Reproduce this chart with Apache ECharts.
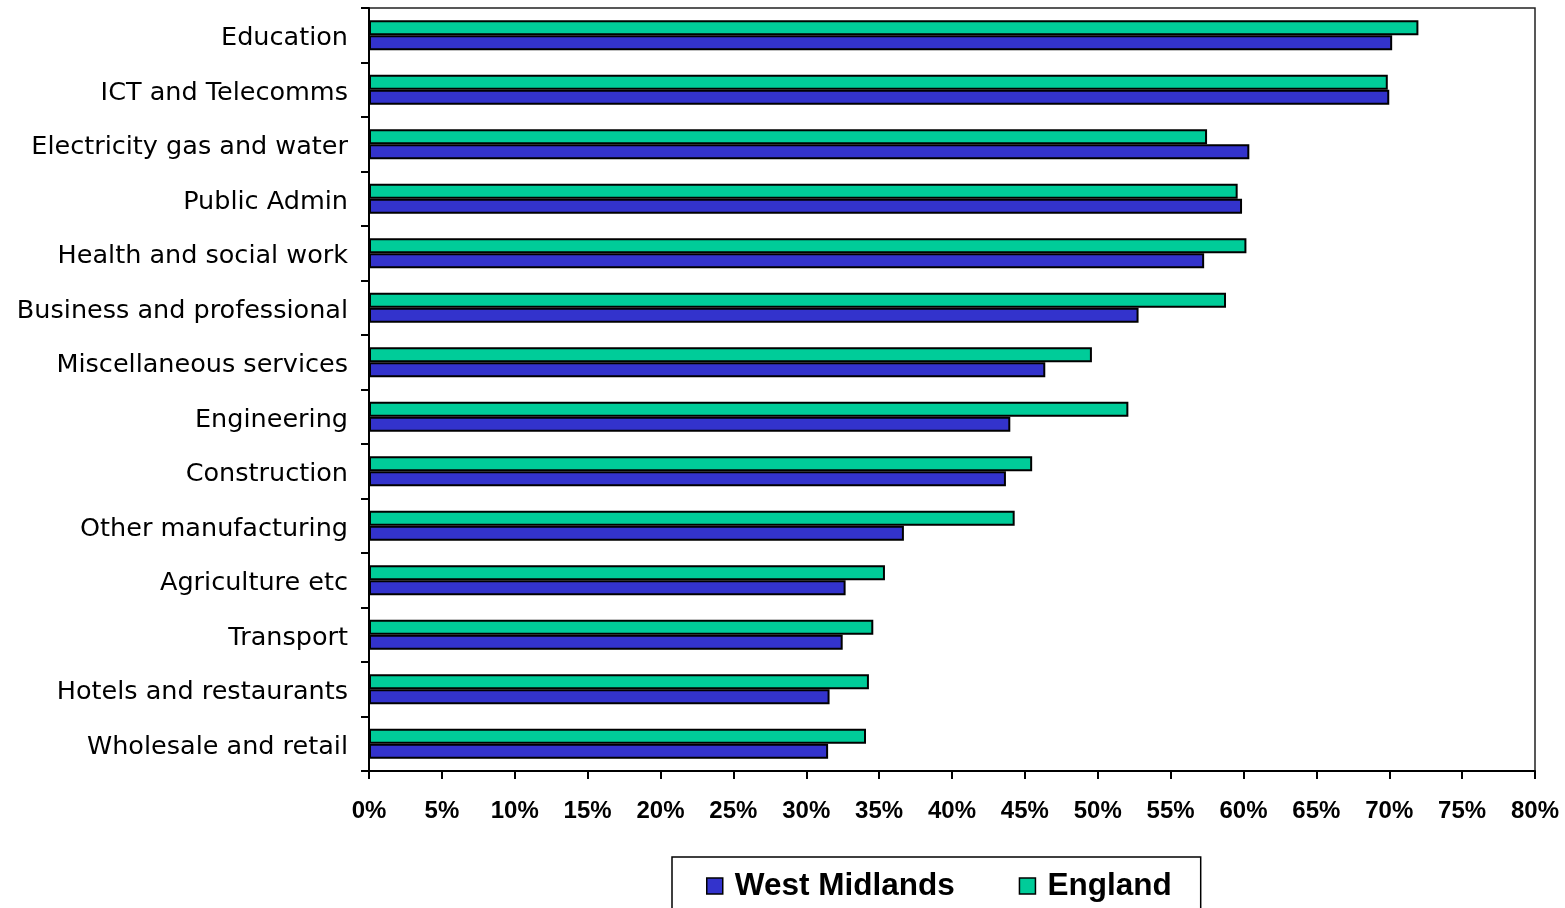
<!DOCTYPE html>
<html>
<head>
<meta charset="utf-8">
<script src="https://cdn.jsdelivr.net/npm/echarts@6/dist/echarts.min.js"></script>
<style>
  html, body { margin: 0; padding: 0; background: #fff; }
  #chart { width: 1565px; height: 908px; }
</style>
</head>
<body>
<div id="chart"></div>
<script>
// Sectors, listed top to bottom
var sectors = [
  'Education', 'ICT and Telecomms', 'Electricity gas and water', 'Public Admin',
  'Health and social work', 'Business and professional', 'Miscellaneous services',
  'Engineering', 'Construction', 'Other manufacturing', 'Agriculture etc',
  'Transport', 'Hotels and restaurants', 'Wholesale and retail'
];

// Share of workforce (%) by sector
var westMidlands = [70.2, 70.0, 60.4, 59.9, 57.3, 52.8, 46.4, 44.0, 43.7, 36.7, 32.7, 32.5, 31.6, 31.5];
var england      = [72.0, 69.9, 57.5, 59.6, 60.2, 58.8, 49.6, 52.1, 45.5, 44.3, 35.4, 34.6, 34.3, 34.1];

// Horizontal axis ticks
var axisMin = 0;
var axisMax = 80;
var axisStep = 5;

var chart = echarts.init(document.getElementById('chart'), null, { renderer: 'canvas' });

var barBorder = { borderColor: '#000', borderWidth: 2 };

chart.setOption({
  animation: false,
  backgroundColor: '#fff',
  grid: {
    left: 369, right: 30, top: 8, bottom: 137,
    show: true, borderColor: '#222', borderWidth: 1.5, backgroundColor: 'transparent'
  },
  legend: {
    data: ['West Midlands', 'England'],
    left: 672, top: 857,
    padding: [13, 29, 40, 34],
    borderColor: '#000', borderWidth: 1.5,
    icon: 'rect',
    itemWidth: 16, itemHeight: 16,
    itemGap: 64,
    itemStyle: { borderColor: '#000', borderWidth: 1.5 },
    textStyle: {
      fontFamily: '"Liberation Sans", Arial, sans-serif',
      fontWeight: 'bold', fontSize: 31.5, color: '#000',
      padding: [0, 0, 0, 7]
    }
  },
  xAxis: {
    type: 'value',
    min: axisMin, max: axisMax, interval: axisStep,
    axisLine: { show: true, lineStyle: { color: '#000', width: 2 } },
    axisTick: { show: true, length: 8, lineStyle: { color: '#000', width: 2 } },
    splitLine: { show: false },
    axisLabel: {
      margin: 28,
      formatter: '{value}%',
      fontFamily: '"Liberation Sans", Arial, sans-serif',
      fontWeight: 'bold', fontSize: 24, color: '#000'
    }
  },
  yAxis: {
    type: 'category',
    data: sectors,
    inverse: true,
    axisLine: { show: true, lineStyle: { color: '#000', width: 2 } },
    axisTick: { show: true, length: 8, lineStyle: { color: '#000', width: 2 } },
    axisLabel: {
      margin: 21,
      formatter: '{cat|{value}}',
      rich: {
        cat: {
          padding: [7, 0, 0, 0],
          fontFamily: '"DejaVu Sans", sans-serif',
          fontSize: 25.5, color: '#000'
        }
      },
      fontFamily: '"DejaVu Sans", sans-serif',
      fontSize: 25.5, color: '#000'
    }
  },
  series: [
    {
      name: 'England', type: 'bar', data: england,
      barWidth: 15, barGap: '0%',
      itemStyle: Object.assign({ color: '#00CC99' }, barBorder)
    },
    {
      name: 'West Midlands', type: 'bar', data: westMidlands,
      barWidth: 15, barGap: '0%',
      itemStyle: Object.assign({ color: '#3333CC' }, barBorder)
    }
  ]
});
</script>
</body>
</html>
